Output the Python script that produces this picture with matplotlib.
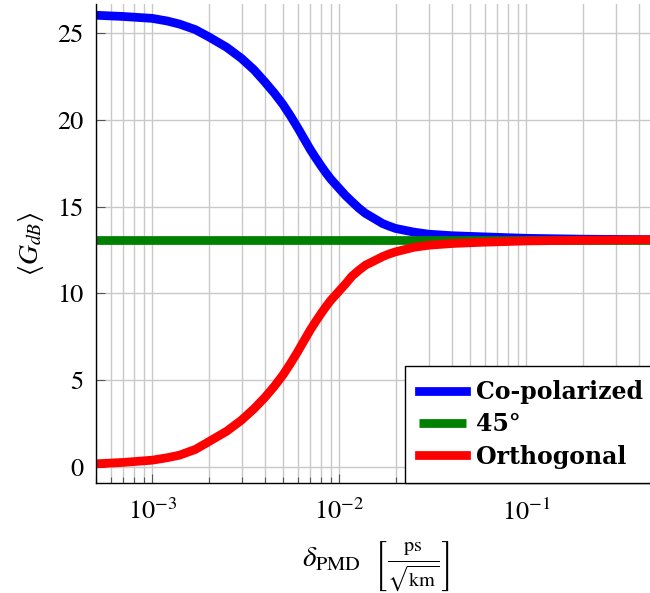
import numpy as np
import matplotlib.pyplot as plt
from matplotlib.ticker import LogLocator, FixedLocator, NullFormatter

plt.rcParams['font.family'] = ['STIXGeneral', 'DejaVu Serif']
plt.rcParams['mathtext.fontset'] = 'stix'

# values
delta_pmd = [5e-4, 7e-4, 1e-3, 1.2e-3, 1.4e-3, 1.7e-3, 2e-3, 2.5e-3, 3e-3, 3.5e-3,
             4e-3, 4.5e-3, 5e-3, 5.5e-3, 6e-3, 6.5e-3, 7e-3, 7.5e-3, 8e-3, 8.5e-3,
             9e-3, 1e-2, 1.08e-2, 1.17e-2, 1.27e-2, 1.38e-2, 1.55e-2, 1.7e-2, 1.85e-2, 2e-2,
             2.5e-2, 3e-2, 4e-2, 5.7e-2, 1e-1, 2e-1, 5e-1]
co_pol = [26.05, 25.98, 25.87, 25.72, 25.54, 25.22, 24.81, 24.2, 23.56, 22.9,
          22.2, 21.55, 20.9, 20.22, 19.55, 18.9, 18.3, 17.8, 17.35, 16.95,
          16.6, 16.05, 15.65, 15.29, 14.93, 14.62, 14.3, 14.04, 13.88, 13.75,
          13.54, 13.42, 13.33, 13.27, 13.18, 13.13, 13.1]
deg45 = [13.1] * len(delta_pmd)
ortho = [0.17, 0.25, 0.38, 0.52, 0.67, 1.0, 1.44, 2.05, 2.69, 3.35,
         4.0, 4.65, 5.3, 5.98, 6.65, 7.3, 7.9, 8.4, 8.85, 9.25,
         9.6, 10.15, 10.55, 11.0, 11.33, 11.63, 11.9, 12.12, 12.28, 12.4,
         12.66, 12.78, 12.88, 12.95, 13.03, 13.07, 13.1]
y_ticks = [0, 5, 10, 15, 20, 25]

fig = plt.figure(figsize=(6.5, 5.93), dpi=100)
ax = fig.add_axes([96 / 650, (593 - 482.7) / 593, 561 / 650, (482.7 - 4) / 593])

lw = 6.3
ax.plot(delta_pmd, co_pol, color='#0000ff', lw=lw, label='Co-polarized', solid_joinstyle='round')
ax.plot(delta_pmd, deg45, color='#008000', lw=lw, label='45°', solid_capstyle='butt')
ax.plot(delta_pmd, ortho, color='#ff0000', lw=lw, label='Orthogonal', solid_joinstyle='round')

ax.set_xscale('log')
ax.set_xlim(5e-4, 5e-1)
ax.set_ylim(-0.92, 26.7)
ax.yaxis.set_major_locator(FixedLocator(y_ticks))
ax.xaxis.set_major_locator(LogLocator(base=10, numticks=10))
ax.xaxis.set_minor_locator(LogLocator(base=10, subs=np.arange(2, 10), numticks=20))
ax.xaxis.set_minor_formatter(NullFormatter())

ax.grid(True, which='major', color='#c8c8c8', lw=1.0)
ax.grid(True, which='minor', axis='x', color='#c8c8c8', lw=1.0)
ax.set_axisbelow(True)

for s in ['top', 'right']:
    ax.spines[s].set_visible(False)
for s in ['left', 'bottom']:
    ax.spines[s].set_linewidth(1.0)
    ax.spines[s].set_color('black')

ax.tick_params(which='major', direction='in', length=6.5, width=0.8, color='#555555',
               labelsize=19, pad=9)
ax.tick_params(which='minor', direction='in', length=4.3, width=0.8, color='#555555')
ax.tick_params(axis='x', which='major', pad=12)

ax.set_ylabel(r'$\langle G_{dB} \rangle$', fontsize=20, labelpad=8)
ax.set_xlabel(r'$\delta_{\mathrm{PMD}}\ \ \left[\frac{\mathrm{ps}}{\sqrt{\mathrm{km}}}\right]$',
              fontsize=21, labelpad=10)

leg = ax.legend(loc='lower right', bbox_to_anchor=(1.0, 0.0), borderaxespad=0,
                prop={'family': 'DejaVu Serif', 'weight': 'bold', 'size': 17},
                fancybox=False, edgecolor='black', framealpha=1,
                handlelength=2.0, handletextpad=0.42, labelspacing=0.35, borderpad=0.6)
leg.get_frame().set_linewidth(1.0)

fig.savefig('out.png', dpi=100)
